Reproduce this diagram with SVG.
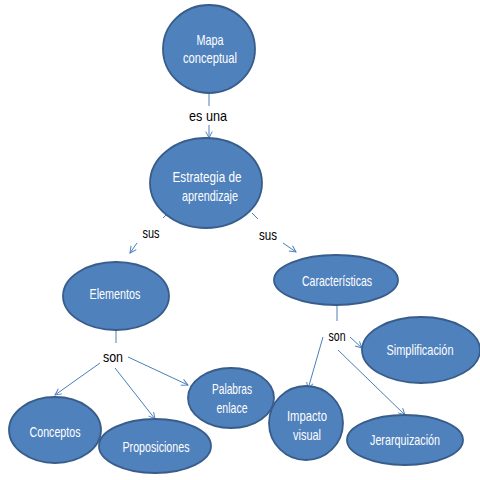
<svg xmlns="http://www.w3.org/2000/svg" width="480" height="480" viewBox="0 0 480 480">
<style>
.n{fill:#4F81BD;stroke:#385D8A;stroke-width:1.8}
.t{fill:#fff;font-family:"Liberation Sans Narrow","Liberation Sans",sans-serif;font-size:15px;text-anchor:middle}
.l{fill:#000;font-family:"Liberation Sans Narrow","Liberation Sans",sans-serif;font-size:15px;text-anchor:middle}
.c{stroke:#4A7EBB;stroke-width:1;fill:none}
</style>
<defs>
<marker id="a" viewBox="0 0 10 10" refX="9" refY="5" markerWidth="8" markerHeight="8" orient="auto" markerUnits="userSpaceOnUse">
<path d="M1,1 L9,5 L1,9" fill="none" stroke="#4A7EBB" stroke-width="1.2"/>
</marker>
</defs>
<rect width="480" height="480" fill="#fff"/>
<g id="connectors">
<line class="c" x1="209" y1="93" x2="209" y2="106"/>
<line class="c" x1="209" y1="125" x2="209" y2="138" marker-end="url(#a)"/>
<line class="c" x1="163" y1="218" x2="169" y2="212"/>
<line class="c" x1="137" y1="243" x2="130" y2="253" marker-end="url(#a)"/>
<line class="c" x1="252" y1="213" x2="258" y2="219"/>
<line class="c" x1="283" y1="243" x2="296" y2="252" marker-end="url(#a)"/>
<line class="c" x1="116" y1="330" x2="116" y2="343"/>
<line class="c" x1="100" y1="363" x2="55" y2="395" marker-end="url(#a)"/>
<line class="c" x1="115" y1="368" x2="155" y2="419" marker-end="url(#a)"/>
<line class="c" x1="128" y1="357" x2="188" y2="385" marker-end="url(#a)"/>
<line class="c" x1="337" y1="305" x2="337" y2="321"/>
<line class="c" x1="350" y1="337" x2="362" y2="348" marker-end="url(#a)"/>
<line class="c" x1="323" y1="337" x2="308" y2="389" marker-end="url(#a)"/>
<line class="c" x1="338" y1="350" x2="405" y2="415" marker-end="url(#a)"/>
</g>
<g id="labels">
<text class="l" x="208" y="121" textLength="38" lengthAdjust="spacingAndGlyphs">es una</text>
<text class="l" x="151" y="238" textLength="17" lengthAdjust="spacingAndGlyphs">sus</text>
<text class="l" x="268" y="240" textLength="18" lengthAdjust="spacingAndGlyphs">sus</text>
<text class="l" x="113" y="362" textLength="20" lengthAdjust="spacingAndGlyphs">son</text>
<text class="l" x="337" y="341" textLength="17" lengthAdjust="spacingAndGlyphs">son</text>
</g>
<g id="mapa">
<ellipse class="n" cx="209" cy="49" rx="46" ry="44"/>
<text class="t" x="210" y="45" textLength="27" lengthAdjust="spacingAndGlyphs">Mapa</text>
<text class="t" x="210" y="63" textLength="54" lengthAdjust="spacingAndGlyphs">conceptual</text>
</g>
<g id="estrategia">
<ellipse class="n" cx="206" cy="183" rx="56" ry="45"/>
<text class="t" x="207" y="182" textLength="69" lengthAdjust="spacingAndGlyphs">Estrategia de</text>
<text class="t" x="210" y="201" textLength="56" lengthAdjust="spacingAndGlyphs">aprendizaje</text>
</g>
<g id="elementos">
<ellipse class="n" cx="116" cy="296" rx="53" ry="34"/>
<text class="t" x="115" y="299" textLength="51" lengthAdjust="spacingAndGlyphs">Elementos</text>
</g>
<g id="caracteristicas">
<ellipse class="n" cx="336" cy="280" rx="62" ry="25"/>
<text class="t" x="337" y="286" textLength="70" lengthAdjust="spacingAndGlyphs">Características</text>
</g>
<g id="conceptos">
<ellipse class="n" cx="55" cy="430" rx="46" ry="33"/>
<text class="t" x="55" y="437" textLength="51" lengthAdjust="spacingAndGlyphs">Conceptos</text>
</g>
<g id="proposiciones">
<ellipse class="n" cx="155" cy="446" rx="56" ry="27"/>
<text class="t" x="156" y="452" textLength="67" lengthAdjust="spacingAndGlyphs">Proposiciones</text>
</g>
<g id="palabras">
<ellipse class="n" cx="231" cy="398" rx="43" ry="30"/>
<text class="t" x="232" y="394" textLength="40" lengthAdjust="spacingAndGlyphs">Palabras</text>
<text class="t" x="232" y="413" textLength="31" lengthAdjust="spacingAndGlyphs">enlace</text>
</g>
<g id="simplificacion">
<ellipse class="n" cx="421" cy="350" rx="59" ry="33"/>
<text class="t" x="420" y="355" textLength="67" lengthAdjust="spacingAndGlyphs">Simplificación</text>
</g>
<g id="impacto">
<ellipse class="n" cx="306" cy="423" rx="37" ry="37"/>
<text class="t" x="307" y="421" textLength="40" lengthAdjust="spacingAndGlyphs">Impacto</text>
<text class="t" x="307" y="440" textLength="28" lengthAdjust="spacingAndGlyphs">visual</text>
</g>
<g id="jerarquizacion">
<ellipse class="n" cx="405" cy="440" rx="58" ry="25"/>
<text class="t" x="405" y="445" textLength="70" lengthAdjust="spacingAndGlyphs">Jerarquización</text>
</g>
</svg>
